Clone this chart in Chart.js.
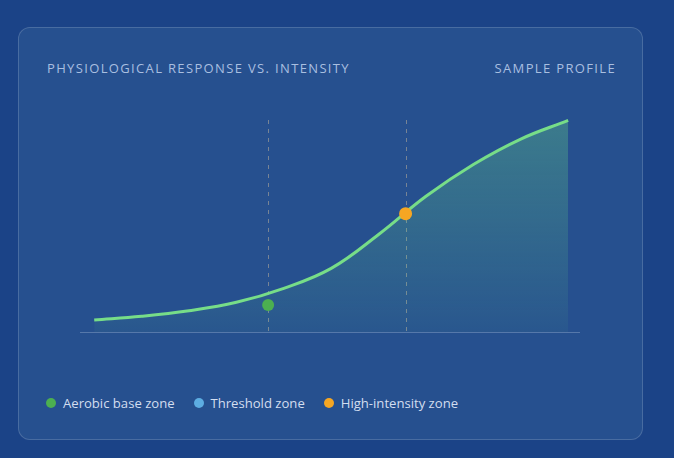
<!DOCTYPE html>
<html>
<head>
<meta charset="utf-8">
<script src="https://cdn.jsdelivr.net/npm/chart.js@4.4.1/dist/chart.umd.min.js"></script>
<style>
  html, body { margin: 0; padding: 0; }
  body {
    width: 674px; height: 458px;
    background: #1b4387;
    font-family: "Open Sans", "Noto Sans", sans-serif;
    position: relative;
    overflow: hidden;
  }
  .card {
    position: absolute; left: 18px; top: 27px;
    width: 625px; height: 413px; box-sizing: border-box;
    background: #26508f;
    border: 1px solid rgba(255,255,255,0.16);
    border-radius: 12px;
  }
  .title, .subtitle {
    position: absolute; top: 59px;
    font-size: 13px; letter-spacing: 1.35px;
    color: #a9bfe0;
  }
  .title { left: 47px; }
  .subtitle { right: 58px; }
  .plot { position: absolute; left: 80px; top: 110px; width: 500px; height: 232px; }
  .legend {
    position: absolute; left: 46px; top: 394px;
    display: flex; gap: 19px;
    font-size: 13.1px; color: #d3def0;
  }
  .legend span.item { display: flex; align-items: center; gap: 7px; }
  .legend i { display: inline-block; width: 10px; height: 10px; border-radius: 50%; }
</style>
</head>
<body>
<div class="card"></div>
<div class="title">PHYSIOLOGICAL RESPONSE VS. INTENSITY</div>
<div class="subtitle">SAMPLE PROFILE</div>
<div class="plot"><canvas id="responseChart"></canvas></div>
<div class="legend" id="legend"></div>

<script>
// data
var intensity = [0, 10, 20, 30, 40, 50, 60, 70, 80, 90, 100];
var response = [5.7, 7.4, 10.0, 14.0, 20.6, 30.0, 46.0, 64.0, 79.0, 91.0, 99.8];
var thresholds = [36.7, 65.7];
var aerobicPoint = [36.7, 12.7];
var highPoint = [65.7, 55.8];
var zoneNames = ["Aerobic base zone", "Threshold zone", "High-intensity zone"];
var zoneColors = ["#4caf50", "#5dade2", "#f5a623"];

var ctx = document.getElementById('responseChart');

// dashed threshold lines + baseline
var guides = {
  id: 'guides',
  beforeDatasetsDraw: function(chart) {
    var c = chart.ctx, area = chart.chartArea, x = chart.scales.x;
    c.save();
    c.strokeStyle = 'rgba(160,180,210,0.4)';
    c.lineWidth = 1;
    c.beginPath();
    c.moveTo(area.left, area.bottom + 0.5);
    c.lineTo(area.right, area.bottom + 0.5);
    c.stroke();
    c.setLineDash([4, 5]);
    c.strokeStyle = 'rgba(185,175,155,0.55)';
    thresholds.forEach(function(t) {
      var px = Math.round(x.getPixelForValue(t)) + 0.5;
      c.beginPath();
      c.moveTo(px, area.top);
      c.lineTo(px, area.bottom);
      c.stroke();
    });
    c.restore();
  }
};

var chart = new Chart(ctx, {
  type: 'line',
  data: {
    datasets: [{
      label: 'Response',
      data: intensity.map(function(v, i) { return {x: v, y: response[i]}; }),
      borderColor: '#77dd88',
      borderWidth: 3,
      pointRadius: 0,
      tension: 0.4,
      fill: 'origin',
      clip: false,
      backgroundColor: function(context) {
        var area = context.chart.chartArea;
        if (!area) return 'rgba(110,224,134,0.2)';
        var g = context.chart.ctx.createLinearGradient(0, area.top, 0, area.bottom);
        g.addColorStop(0, 'rgba(110,224,134,0.30)');
        g.addColorStop(1, 'rgba(110,224,134,0.05)');
        return g;
      },
      order: 2
    }, {
      label: zoneNames[0],
      type: 'scatter',
      data: [{x: aerobicPoint[0], y: aerobicPoint[1]}],
      pointRadius: 6,
      pointBackgroundColor: zoneColors[0],
      pointBorderWidth: 0,
      clip: false,
      order: 1
    }, {
      label: zoneNames[2],
      type: 'scatter',
      data: [{x: highPoint[0], y: highPoint[1]}],
      pointRadius: 6.5,
      pointBackgroundColor: zoneColors[2],
      pointBorderWidth: 0,
      clip: false,
      order: 0
    }]
  },
  options: {
    responsive: true,
    maintainAspectRatio: false,
    animation: false,
    layout: { autoPadding: false, padding: { top: 10, bottom: 10, left: 0, right: 0 } },
    scales: {
      x: { type: 'linear', min: -3, max: 102.5, display: false },
      y: { min: 0, max: 100, display: false }
    },
    plugins: {
      legend: { display: false },
      tooltip: { enabled: false }
    }
  },
  plugins: [guides]
});

// legend
var legend = document.getElementById('legend');
zoneNames.forEach(function(name, i) {
  var item = document.createElement('span');
  item.className = 'item';
  item.innerHTML = '<i style="background:' + zoneColors[i] + '"></i>' + name;
  legend.appendChild(item);
});
</script>
</body>
</html>
